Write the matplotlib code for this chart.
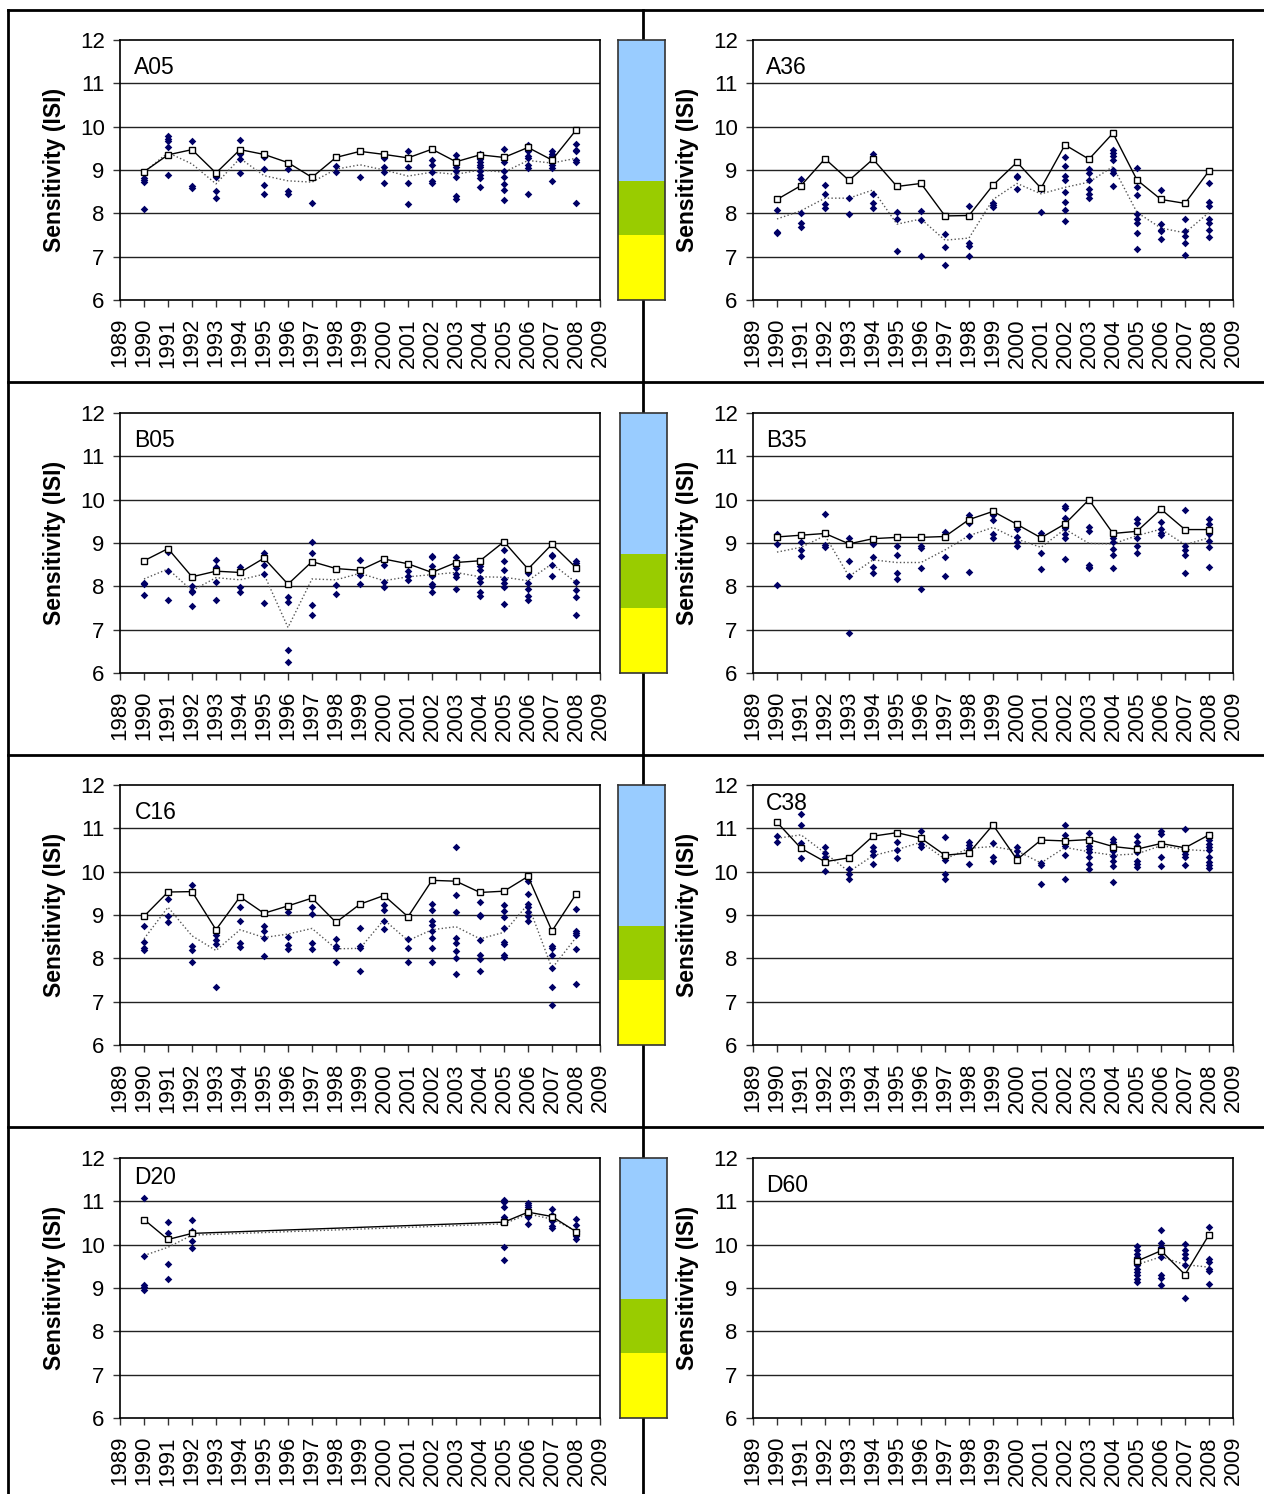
import matplotlib
matplotlib.use("Agg")
import matplotlib.pyplot as plt
from matplotlib.lines import Line2D

plt.rcParams['font.family'] = ['Liberation Sans', 'DejaVu Sans']

# ---- data ----
years = list(range(1990, 2009))

A05_top = [8.96, 9.35, 9.47, 8.93, 9.47, 9.36, 9.17, 8.83, 9.29, 9.43, 9.36, 9.28, 9.48, 9.19, 9.35, 9.29, 9.52, 9.23, 9.92]
A05_avg = [8.95, 9.4, 9.14, 8.68, 9.27, 8.87, 8.75, 8.72, 9.02, 9.12, 9.0, 8.86, 8.95, 8.9, 9.0, 8.95, 9.22, 9.16, 9.27]
A05_pts = [[8.81, 8.78, 8.72, 8.11], [9.78, 9.72, 9.66, 9.53, 8.89], [9.66, 8.62, 8.58], [8.85, 8.52, 8.36],
           [9.69, 9.38, 9.25, 8.92], [9.29, 9.03, 8.65, 8.45], [9.02, 8.52, 8.45], [8.25], [9.1, 8.96], [8.85],
           [9.28, 9.06, 8.96, 8.69], [9.45, 9.08, 8.71, 8.22], [9.22, 9.11, 8.95, 8.75, 8.71],
           [9.35, 9.22, 9.08, 8.98, 8.85, 8.39, 8.33], [9.38, 9.32, 9.25, 9.19, 9.12, 9.06, 8.98, 8.89, 8.81, 8.6],
           [9.48, 9.19, 8.98, 8.85, 8.68, 8.55, 8.31], [9.58, 9.45, 9.32, 9.27, 9.11, 9.05, 8.45],
           [9.43, 9.38, 9.32, 9.11, 9.05, 8.74], [9.6, 9.47, 9.43, 9.22, 9.19, 8.25]]

A36_top = [8.32, 8.64, 9.26, 8.76, 9.25, 8.62, 8.69, 7.94, 7.95, 8.65, 9.18, 8.58, 9.58, 9.25, 9.85, 8.77, 8.32, 8.23, 8.98]
A36_avg = [7.87, 8.06, 8.35, 8.35, 8.54, 7.75, 7.87, 7.38, 7.43, 8.32, 8.69, 8.45, 8.6, 8.72, 9.08, 8.02, 7.66, 7.55, 8.02]
A36_pts = [[8.08, 7.56, 7.54], [8.79, 8.0, 7.77, 7.69], [8.65, 8.45, 8.22, 8.12], [8.35, 7.98], [9.37, 8.45, 8.25, 8.12],
           [8.02, 7.88, 7.14], [8.05, 7.84, 7.02], [7.53, 7.22, 6.81], [8.16, 7.31, 7.25, 7.01], [8.25, 8.2, 8.15],
           [8.86, 8.83, 8.56], [8.56, 8.04], [9.31, 9.09, 8.86, 8.76, 8.49, 8.26, 8.08, 7.82],
           [9.03, 8.93, 8.76, 8.56, 8.45, 8.35], [9.47, 9.39, 9.32, 9.23, 9.0, 8.93, 8.64],
           [9.05, 8.6, 8.43, 7.98, 7.88, 7.78, 7.54, 7.17], [8.55, 7.75, 7.62, 7.6, 7.41],
           [7.87, 7.6, 7.47, 7.31, 7.05], [8.69, 8.26, 8.18, 7.88, 7.77, 7.62, 7.45]]

B05_top = [8.59, 8.87, 8.22, 8.35, 8.32, 8.65, 8.05, 8.57, 8.41, 8.37, 8.63, 8.52, 8.32, 8.55, 8.59, 9.03, 8.4, 8.97, 8.43]
B05_avg = [8.17, 8.4, 7.9, 8.2, 8.15, 8.28, 7.05, 8.17, 8.15, 8.3, 8.13, 8.22, 8.27, 8.32, 8.22, 8.21, 8.13, 8.52, 8.09]
B05_pts = [[8.08, 8.05, 7.8], [8.8, 8.36, 7.69], [8.0, 7.9, 7.87, 7.54], [8.61, 8.44, 8.11, 7.69], [8.45, 7.99, 7.88],
           [8.77, 8.49, 8.28, 7.62], [7.76, 7.64, 6.54, 6.26], [9.02, 8.78, 7.58, 7.35], [8.02, 7.82],
           [8.6, 8.26, 8.05], [8.49, 8.1, 7.98], [8.36, 8.24, 8.15], [8.71, 8.68, 8.47, 8.24, 8.05, 8.0, 7.88],
           [8.68, 8.43, 8.28, 8.22, 7.93], [8.46, 8.38, 8.2, 8.1, 7.86, 7.78],
           [8.84, 8.58, 8.37, 8.16, 8.07, 7.99, 7.6], [8.3, 8.07, 7.95, 7.78, 7.68], [8.73, 8.69, 8.5, 8.25],
           [8.58, 8.54, 8.1, 7.92, 7.76, 7.35]]

B35_top = [9.14, 9.18, 9.22, 8.98, 9.1, 9.13, 9.13, 9.15, 9.54, 9.73, 9.43, 9.12, 9.44, 10.0, 9.22, 9.27, 9.78, 9.31, 9.31]
B35_avg = [8.79, 8.9, 9.17, 8.23, 8.61, 8.55, 8.55, 8.84, 9.17, 9.36, 9.09, 8.9, 9.32, 8.99, 8.98, 9.17, 9.32, 8.96, 9.12]
B35_pts = [[9.2, 8.98, 8.03], [9.03, 8.85, 8.71], [9.67, 8.95, 8.9], [9.11, 8.58, 8.23, 6.92], [8.98, 8.67, 8.44, 8.3],
           [8.93, 8.72, 8.31, 8.16], [8.93, 8.88, 8.42, 7.95], [9.25, 8.67, 8.23], [9.65, 9.47, 9.17, 8.33],
           [9.65, 9.54, 9.2, 9.11], [9.33, 9.15, 9.03, 8.92], [9.24, 8.78, 8.41],
           [9.85, 9.81, 9.58, 9.35, 9.21, 9.12, 8.62], [9.38, 9.27, 8.49, 8.44, 8.42], [9.11, 9.03, 8.87, 8.73, 8.42],
           [9.56, 9.47, 9.11, 8.92, 8.78], [9.78, 9.48, 9.33, 9.22, 9.18], [9.77, 8.92, 8.83, 8.72, 8.31],
           [9.56, 9.43, 9.2, 9.05, 8.9, 8.44]]

C16_top = [8.97, 9.53, 9.54, 8.66, 9.42, 9.04, 9.21, 9.39, 8.83, 9.25, 9.45, 8.96, 9.8, 9.78, 9.52, 9.55, 9.89, 8.63, 9.48]
C16_avg = [8.45, 9.18, 8.52, 8.18, 8.66, 8.48, 8.56, 8.69, 8.22, 8.23, 8.89, 8.41, 8.66, 8.73, 8.45, 8.6, 9.25, 7.77, 8.48]
C16_pts = [[8.75, 8.37, 8.23, 8.2], [9.38, 8.97, 8.85], [9.7, 8.28, 8.19, 7.91], [8.54, 8.43, 8.33, 7.35],
           [9.18, 8.87, 8.35, 8.27], [8.75, 8.64, 8.46, 8.06], [9.07, 8.5, 8.31, 8.22], [9.18, 9.02, 8.35, 8.22],
           [8.45, 8.29, 8.23, 7.92], [8.7, 8.28, 8.25, 7.71], [9.22, 9.12, 8.87, 8.68], [8.45, 8.23, 7.91],
           [9.25, 9.12, 8.86, 8.77, 8.64, 8.46, 8.25, 7.92], [10.58, 9.46, 9.06, 8.46, 8.35, 8.18, 8.0, 7.65],
           [9.29, 9.0, 8.97, 8.42, 8.08, 7.98, 7.71], [9.22, 9.1, 8.95, 8.69, 8.37, 8.34, 8.08, 8.03],
           [9.78, 9.48, 9.25, 9.19, 9.06, 8.98, 8.87], [8.28, 8.23, 8.08, 7.78, 7.33, 6.92],
           [9.13, 8.63, 8.58, 8.54, 8.22, 7.4]]

C38_top = [11.14, 10.54, 10.23, 10.32, 10.82, 10.9, 10.77, 10.38, 10.43, 11.08, 10.28, 10.73, 10.71, 10.74, 10.58, 10.52, 10.65, 10.55, 10.85]
C38_avg = [10.77, 10.85, 10.43, 10.0, 10.37, 10.51, 10.68, 10.29, 10.54, 10.58, 10.48, 10.2, 10.56, 10.46, 10.38, 10.41, 10.6, 10.51, 10.48]
C38_pts = [[10.83, 10.69], [11.33, 11.08, 10.66, 10.31], [10.56, 10.43, 10.33, 10.02], [10.06, 9.95, 9.82],
           [10.56, 10.48, 10.38, 10.18], [10.69, 10.51, 10.31], [10.93, 10.64, 10.58], [10.79, 10.28, 9.95, 9.82],
           [10.69, 10.62, 10.54, 10.18], [10.66, 10.35, 10.25], [10.58, 10.48, 10.37], [10.2, 10.15, 9.72],
           [11.08, 10.85, 10.6, 10.38, 9.82], [10.89, 10.6, 10.52, 10.46, 10.35, 10.18, 10.06],
           [10.75, 10.68, 10.56, 10.48, 10.37, 10.25, 10.14, 9.77], [10.82, 10.69, 10.6, 10.45, 10.25, 10.18, 10.1],
           [10.95, 10.87, 10.64, 10.35, 10.12], [10.98, 10.48, 10.4, 10.33, 10.15],
           [10.85, 10.72, 10.64, 10.56, 10.51, 10.33, 10.23, 10.15, 10.08]]

D20_years = [1990, 1991, 1992, 2005, 2006, 2007, 2008]
D20_top = [10.58, 10.12, 10.26, 10.52, 10.75, 10.65, 10.3]
D20_avg = [9.75, 9.94, 10.22, 10.48, 10.71, 10.59, 10.32]
D20_pts = [[11.07, 9.75, 9.08, 9.02, 8.96], [10.52, 10.28, 9.55, 9.21], [10.57, 10.32, 10.09, 9.93],
           [11.03, 10.98, 10.88, 10.65, 10.59, 9.95, 9.65], [10.97, 10.92, 10.86, 10.78, 10.67, 10.63, 10.48],
           [10.83, 10.69, 10.59, 10.54, 10.44, 10.38], [10.6, 10.46, 10.32, 10.21, 10.13]]

D60_years = [2005, 2006, 2007, 2008]
D60_top = [9.62, 9.86, 9.31, 10.23]
D60_avg = [9.54, 9.72, 9.54, 9.48]
D60_pts = [[9.98, 9.88, 9.78, 9.71, 9.63, 9.52, 9.44, 9.37, 9.29, 9.21, 9.13],
           [10.35, 10.03, 9.94, 9.72, 9.3, 9.22, 9.06], [10.02, 9.88, 9.78, 9.69, 9.52, 8.77],
           [10.4, 9.68, 9.6, 9.45, 9.4, 9.1]]

band_edges = [6, 7.5, 8.75, 12]
band_colors = ['#FFFF00', '#99CC00', '#99CCFF']

panels = [
    ('A05', years, A05_top, A05_avg, A05_pts),
    ('A36', years, A36_top, A36_avg, A36_pts),
    ('B05', years, B05_top, B05_avg, B05_pts),
    ('B35', years, B35_top, B35_avg, B35_pts),
    ('C16', years, C16_top, C16_avg, C16_pts),
    ('C38', years, C38_top, C38_avg, C38_pts),
    ('D20', D20_years, D20_top, D20_avg, D20_pts),
    ('D60', D60_years, D60_top, D60_avg, D60_pts),
]
# where the station name sits (axes fraction from top)
label_y = {'C38': 0.975, 'D20': 0.968}

W, H = 1264, 1494
fig = plt.figure(figsize=(W / 100, H / 100), dpi=100)


def box(x0, y0, x1, y1):
    # pixel box (top-left origin) -> figure fraction rect
    return [x0 / W, 1 - y1 / H, (x1 - x0) / W, (y1 - y0) / H]


row_tops = [40, 413, 785, 1158]
col_lefts = [120, 753]
bar_lefts = [618, 620, 618, 620]

for i, (name, yrs, top, avg, pts) in enumerate(panels):
    r, c = divmod(i, 2)
    y0 = row_tops[r]
    x0 = col_lefts[c]
    ax = fig.add_axes(box(x0, y0, x0 + 480, y0 + 260))
    ax.set_xlim(1989, 2009)
    ax.set_ylim(6, 12)
    ax.set_yticks(range(6, 13))
    ax.set_xticks(range(1989, 2010))
    ax.set_xticklabels([str(y) for y in range(1989, 2010)], rotation=90)
    ax.tick_params(labelsize=16, length=5, width=1, direction='out', color='#333333')
    ax.tick_params(axis='y', pad=6)
    ax.tick_params(axis='x', pad=8)
    for v in range(7, 12):
        ax.axhline(v, color='#222222', lw=1, zorder=1)
    for s in ax.spines.values():
        s.set_linewidth(1.2)
    for yr, vals in zip(yrs, pts):
        ax.scatter([yr] * len(vals), vals, marker='D', s=15, color='#000066', zorder=3, linewidths=0)
    ax.plot(yrs, avg, ls=':', color='#555555', lw=1, zorder=2)
    ax.plot(yrs, top, ls='-', color='black', lw=1, marker='s', ms=5,
            mfc='white', mec='black', mew=1, zorder=4)
    ax.text(0.03 if c == 0 else 0.027, label_y.get(name, 0.94), name, transform=ax.transAxes,
            fontsize=16.5, va='top', ha='left')
    ax.set_ylabel('Sensitivity (ISI)', fontsize=16.5, fontweight='bold', labelpad=10)

    if c == 0:
        bx = bar_lefts[r]
        cax = fig.add_axes(box(bx, y0, bx + 47, y0 + 260))
        cax.set_xlim(0, 1)
        cax.set_ylim(6, 12)
        for lo, hi, col in zip(band_edges[:-1], band_edges[1:], band_colors):
            cax.bar(0.5, hi - lo, bottom=lo, width=1, color=col, edgecolor='none', zorder=2)
        cax.set_xticks([])
        cax.set_yticks([])
        for s in cax.spines.values():
            s.set_linewidth(1.2)
            s.set_color('#333333')
        cax.set_zorder(5)

# table frame lines
def fline(x0, y0, x1, y1):
    fig.add_artist(Line2D([x0 / W, x1 / W], [1 - y0 / H, 1 - y1 / H], color='black', lw=2, zorder=0))

fline(8, 10, 1264, 10)
fline(8, 10, 8, H)
for yy in [382, 755, 1127]:
    fline(8, yy, 1264, yy)
fline(643, 10, 643, H)

fig.savefig('out.png', dpi=100)
